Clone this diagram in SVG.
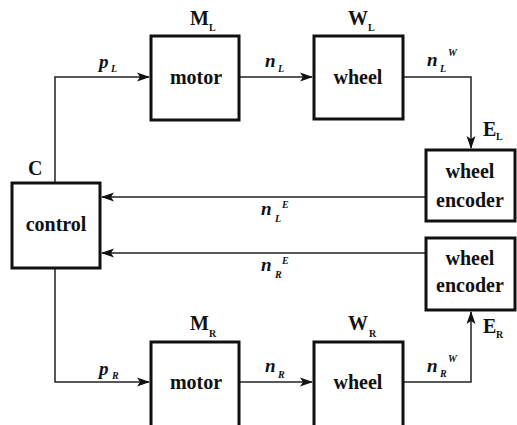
<svg xmlns="http://www.w3.org/2000/svg" width="517" height="425" viewBox="0 0 517 425" font-family="Liberation Serif, DejaVu Serif, serif">
  <style>
    .box { fill: #ffffff; stroke: #111111; stroke-width: 3; }
    .wire { fill: none; stroke: #222222; stroke-width: 1.5; }
    .t { font-weight: bold; fill: #111111; }
    .in { font-size: 20px; text-anchor: middle; }
    .name { font-size: 20px; }
    .sub { font-size: 10px; }
    .sig { font-size: 19px; font-style: italic; }
    .sigs { font-size: 10px; font-style: italic; }
  </style>
  <defs>
    <marker id="arrow" markerWidth="13" markerHeight="10" refX="12" refY="5" orient="auto" markerUnits="userSpaceOnUse">
      <path d="M0,0.5 L13,5 L0,9.5 L3,5 z" fill="#111111"/>
    </marker>
  </defs>
  <rect width="517" height="425" fill="#ffffff"/>

  <g id="connectors">
    <!-- control to left motor -->
    <path class="wire" d="M55,183 V77 H149" marker-end="url(#arrow)"/>
    <!-- control to right motor -->
    <path class="wire" d="M55,268 V382 H149" marker-end="url(#arrow)"/>
    <!-- motor to wheel -->
    <path class="wire" d="M239,77 H312" marker-end="url(#arrow)"/>
    <path class="wire" d="M239,382 H312" marker-end="url(#arrow)"/>
    <!-- wheel to encoder -->
    <path class="wire" d="M403,77 H471 V148" marker-end="url(#arrow)"/>
    <path class="wire" d="M403,382 H471 V312" marker-end="url(#arrow)"/>
    <!-- encoder feedback -->
    <path class="wire" d="M426,197 H102" marker-end="url(#arrow)"/>
    <path class="wire" d="M426,253 H102" marker-end="url(#arrow)"/>
  </g>

  <g id="control" class="t">
    <rect class="box" x="12" y="183" width="88" height="85"/>
    <text class="in" x="56" y="231">control</text>
    <text class="name" x="28" y="175">C</text>
  </g>

  <g id="motor-left" class="t">
    <rect class="box" x="151" y="36" width="88" height="84"/>
    <text class="in" x="196" y="84">motor</text>
    <text class="name" x="190" y="25">M</text>
    <text class="sub" x="209" y="31">L</text>
  </g>

  <g id="wheel-left" class="t">
    <rect class="box" x="314" y="36" width="89" height="83"/>
    <text class="in" x="358" y="84">wheel</text>
    <text class="name" x="348" y="25">W</text>
    <text class="sub" x="368" y="31">L</text>
  </g>

  <g id="encoder-left" class="t">
    <rect class="box" x="426" y="150" width="89" height="71"/>
    <text class="in" x="470" y="178">wheel</text>
    <text class="in" x="470" y="207">encoder</text>
    <text class="name" x="483" y="136">E</text>
    <text class="sub" x="496" y="140">L</text>
  </g>

  <g id="encoder-right" class="t">
    <rect class="box" x="426" y="238" width="89" height="72"/>
    <text class="in" x="470" y="265">wheel</text>
    <text class="in" x="470" y="292">encoder</text>
    <text class="name" x="483" y="333">E</text>
    <text class="sub" x="496" y="338">R</text>
  </g>

  <g id="motor-right" class="t">
    <rect class="box" x="151" y="342" width="88" height="90"/>
    <text class="in" x="196" y="389">motor</text>
    <text class="name" x="190" y="330">M</text>
    <text class="sub" x="209" y="337">R</text>
  </g>

  <g id="wheel-right" class="t">
    <rect class="box" x="314" y="342" width="89" height="90"/>
    <text class="in" x="358" y="389">wheel</text>
    <text class="name" x="348" y="330">W</text>
    <text class="sub" x="369" y="337">R</text>
  </g>

  <g id="signal-labels" class="t">
    <text class="sig" x="99" y="68">p</text>
    <text class="sigs" x="111" y="72">L</text>
    <text class="sig" x="265" y="67">n</text>
    <text class="sigs" x="278" y="72">L</text>
    <text class="sig" x="427" y="66">n</text>
    <text class="sigs" x="440" y="72">L</text>
    <text class="sigs" x="448" y="56">W</text>
    <text class="sig" x="261" y="215">n</text>
    <text class="sigs" x="275" y="222">L</text>
    <text class="sigs" x="282" y="208">E</text>
    <text class="sig" x="261" y="271">n</text>
    <text class="sigs" x="275" y="278">R</text>
    <text class="sigs" x="282" y="264">E</text>
    <text class="sig" x="99" y="375">p</text>
    <text class="sigs" x="112" y="379">R</text>
    <text class="sig" x="265" y="372">n</text>
    <text class="sigs" x="278" y="378">R</text>
    <text class="sig" x="427" y="372">n</text>
    <text class="sigs" x="440" y="377">R</text>
    <text class="sigs" x="448" y="362">W</text>
  </g>
</svg>
